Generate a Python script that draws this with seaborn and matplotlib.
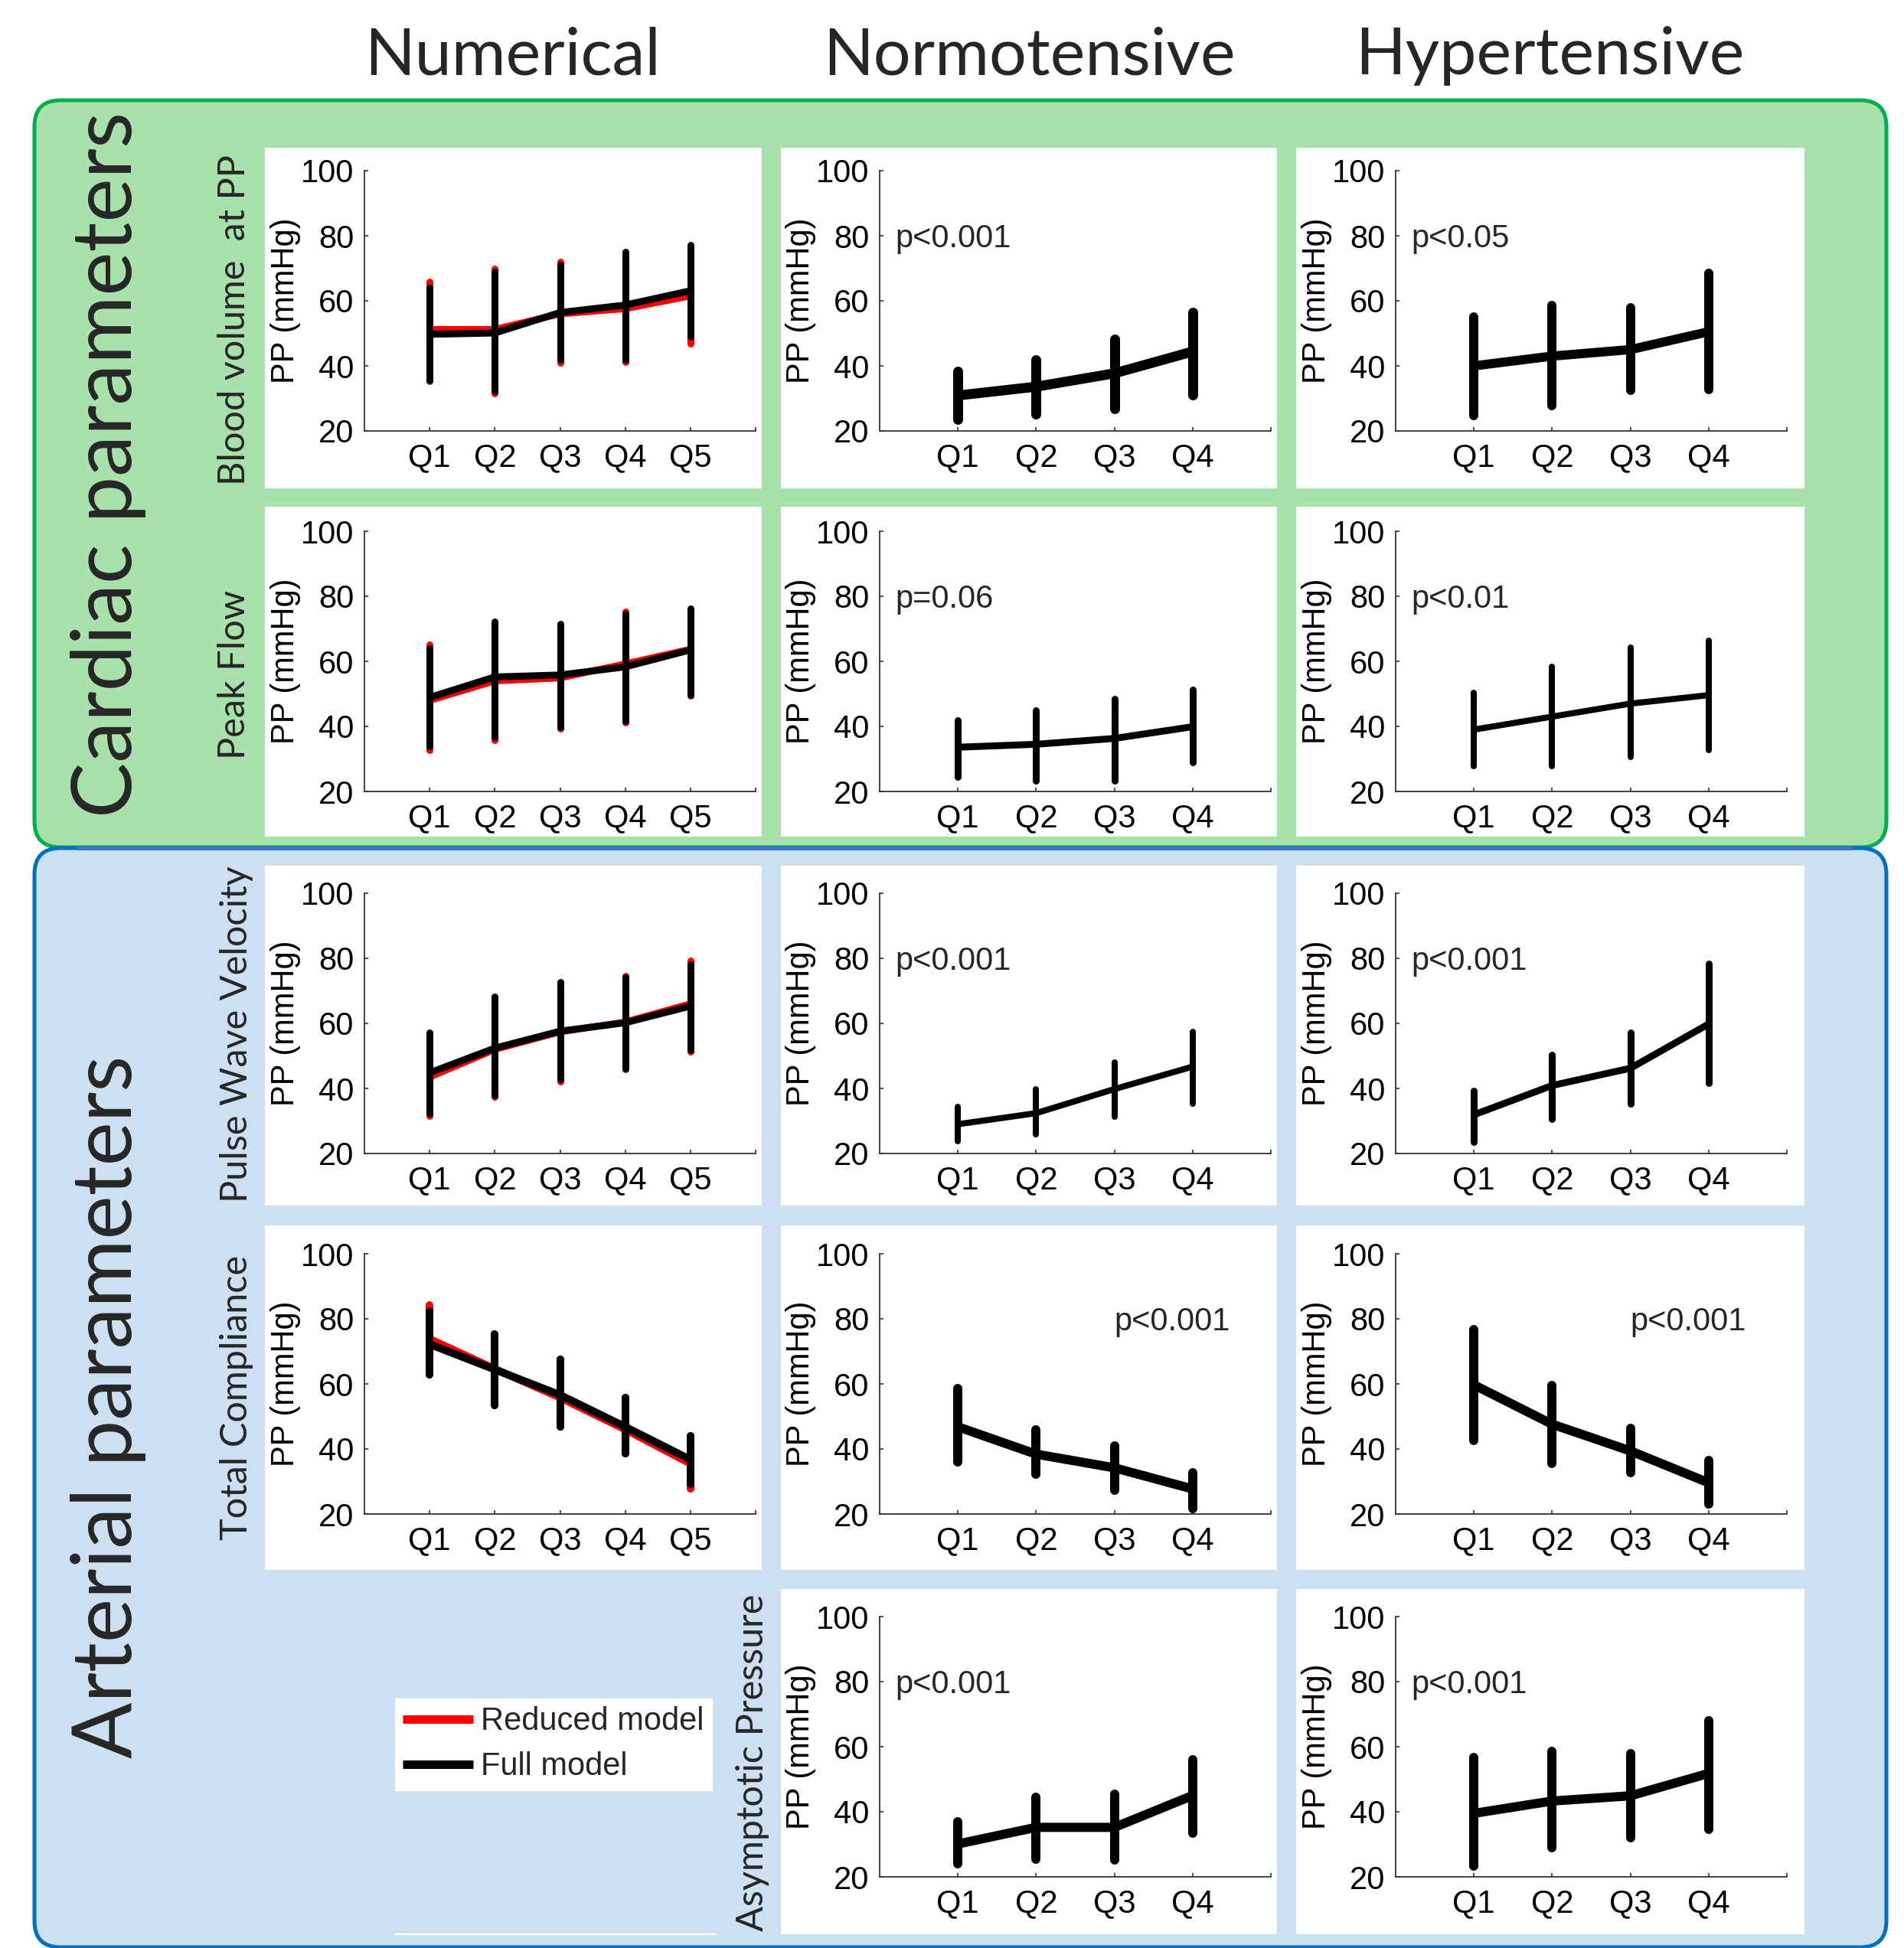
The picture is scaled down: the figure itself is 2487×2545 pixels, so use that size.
import numpy as np
import pandas as pd
import matplotlib
matplotlib.use("Agg")
import matplotlib.pyplot as plt
import seaborn as sns
from matplotlib.patches import FancyBboxPatch, Rectangle
from matplotlib.lines import Line2D

W, H = 2487, 2545

columns = ["Numerical", "Normotensive", "Hypertensive"]
row_names = ["Blood volume  at PP", "Peak Flow", "Pulse Wave Velocity",
             "Total Compliance", "Asymptotic Pressure"]
groups = ["Cardiac parameters", "Arterial parameters"]
q5 = ["Q1", "Q2", "Q3", "Q4", "Q5"]
q4 = ["Q1", "Q2", "Q3", "Q4"]

# PP (mmHg) per quartile: mean, bottom and top of the bar
bv_num_red = {"mean": [51.2, 51.2, 56.0, 57.6, 61.5], "lo": [35.2, 31.6, 41.0, 41.2, 46.8], "hi": [66.0, 70.0, 72.0, 74.5, 76.5]}
bv_num_full = {"mean": [49.7, 50.1, 56.4, 58.7, 63.1], "lo": [35.6, 32.2, 41.8, 41.8, 48.9], "hi": [64.0, 69.0, 71.0, 75.0, 77.2]}
bv_normo = {"mean": [30.9, 33.6, 37.7, 44.4], "lo": [23.5, 25.2, 26.8, 31.0], "hi": [38.3, 42.0, 48.2, 56.5]}
bv_hyper = {"mean": [40.0, 43.0, 45.0, 50.5], "lo": [24.8, 27.8, 32.5, 32.8], "hi": [55.0, 58.5, 57.8, 68.5]}

pf_num_red = {"mean": [48.0, 54.0, 54.9, 59.2, 63.7], "lo": [32.6, 35.8, 39.2, 41.2, 49.5], "hi": [65.1, 72.0, 71.0, 75.4, 76.0]}
pf_num_full = {"mean": [48.9, 55.2, 55.8, 58.3, 63.5], "lo": [34.0, 36.7, 39.8, 41.6, 49.7], "hi": [64.0, 72.3, 71.6, 74.5, 76.3]}
pf_normo = {"mean": [33.6, 34.5, 36.3, 39.9], "lo": [24.4, 23.3, 23.3, 29.0], "hi": [42.0, 45.0, 48.5, 51.3]}
pf_hyper = {"mean": [39.0, 43.0, 47.0, 49.6], "lo": [27.7, 27.7, 30.7, 32.7], "hi": [50.3, 58.3, 64.3, 66.3]}

pwv_num_red = {"mean": [43.5, 52.0, 57.4, 60.4, 66.0], "lo": [31.5, 37.3, 42.2, 46.0, 51.3], "hi": [57.0, 68.0, 72.5, 74.5, 79.2]}
pwv_num_full = {"mean": [44.8, 52.4, 57.6, 60.2, 65.3], "lo": [32.2, 37.8, 42.8, 46.2, 51.8], "hi": [57.2, 68.2, 72.7, 74.2, 78.0]}
pwv_normo = {"mean": [29.0, 32.4, 39.8, 46.7], "lo": [23.7, 26.0, 31.4, 35.2], "hi": [34.3, 39.7, 47.9, 57.3]}
pwv_hyper = {"mean": [31.9, 40.9, 46.2, 59.8], "lo": [23.6, 30.7, 35.4, 41.6], "hi": [39.4, 50.4, 57.1, 78.3]}

tc_num_red = {"mean": [73.8, 64.6, 55.8, 46.0, 35.5], "lo": [62.9, 53.5, 46.8, 38.6, 27.7], "hi": [84.3, 75.3, 67.5, 55.8, 44.1]}
tc_num_full = {"mean": [72.2, 64.4, 56.6, 46.8, 36.7], "lo": [62.9, 53.5, 46.8, 38.6, 29.2], "hi": [82.4, 75.3, 67.5, 55.8, 44.1]}
tc_normo = {"mean": [46.8, 38.4, 34.2, 27.7], "lo": [36.1, 32.3, 27.3, 21.6], "hi": [58.5, 46.0, 41.0, 32.6]}
tc_hyper = {"mean": [59.7, 47.6, 39.4, 29.6], "lo": [42.6, 35.5, 32.8, 23.0], "hi": [76.8, 59.6, 46.3, 36.5]}

ap_normo = {"mean": [30.1, 35.2, 35.2, 45.0], "lo": [23.9, 25.5, 25.1, 33.3], "hi": [37.0, 44.5, 45.3, 55.9]}
ap_hyper = {"mean": [39.5, 43.3, 44.9, 51.8], "lo": [23.2, 28.9, 31.9, 34.7], "hi": [56.6, 58.5, 57.8, 68.0]}

p_texts = {(0, 1): "p<0.001", (0, 2): "p<0.05", (1, 1): "p=0.06", (1, 2): "p<0.01",
           (2, 1): "p<0.001", (2, 2): "p<0.001", (3, 1): "p<0.001", (3, 2): "p<0.001",
           (4, 1): "p<0.001", (4, 2): "p<0.001"}

panels = {
    (0, 0): [(bv_num_red, "red"), (bv_num_full, "black")],
    (0, 1): [(bv_normo, "black")], (0, 2): [(bv_hyper, "black")],
    (1, 0): [(pf_num_red, "red"), (pf_num_full, "black")],
    (1, 1): [(pf_normo, "black")], (1, 2): [(pf_hyper, "black")],
    (2, 0): [(pwv_num_red, "red"), (pwv_num_full, "black")],
    (2, 1): [(pwv_normo, "black")], (2, 2): [(pwv_hyper, "black")],
    (3, 0): [(tc_num_red, "red"), (tc_num_full, "black")],
    (3, 1): [(tc_normo, "black")], (3, 2): [(tc_hyper, "black")],
    (4, 1): [(ap_normo, "black")], (4, 2): [(ap_hyper, "black")],
}

# line thickness of each panel, in pixels
lw_px = {(0, 0): 9, (0, 1): 13, (0, 2): 12, (1, 0): 9, (1, 1): 9, (1, 2): 8,
         (2, 0): 9, (2, 1): 8, (2, 2): 9, (3, 0): 10, (3, 1): 12, (3, 2): 12,
         (4, 1): 12, (4, 2): 12}

sns.set_theme(style="ticks")
plt.rcParams["font.family"] = ["Liberation Sans", "DejaVu Sans"]

fig = plt.figure(figsize=(W / 100, H / 100), dpi=100)
bg = fig.add_axes([0, 0, 1, 1], zorder=0)
bg.set_xlim(0, W)
bg.set_ylim(H, 0)
bg.axis("off")

bg.add_patch(FancyBboxPatch((45, 131), 2419, 976, boxstyle="round,pad=0,rounding_size=34",
                            fc="#A9E1AA", ec="#00B050", lw=3.6))
bg.add_patch(FancyBboxPatch((45, 1108), 2419, 1436, boxstyle="round,pad=0,rounding_size=34",
                            fc="#CCE0F1", ec="#0070C0", lw=3.6))
bg.plot([100, 2420], [1108, 1108], color="#4472C4", lw=3.6, solid_capstyle="butt")

col_white = [(346, 995), (1020, 1668), (1693, 2357)]
row_white = [(193, 638), (662, 1093), (1131, 1575), (1601, 2051), (2076, 2527)]
for (r, c) in panels:
    x0, x1 = col_white[c]
    y0, y1 = row_white[r]
    bg.add_patch(Rectangle((x0, y0), x1 - x0, y1 - y0, fc="white", ec="none"))
bg.plot([516, 935], [2527, 2527], color="white", lw=1.5)

for name, cx in zip(columns, [669, 1344, 2024]):
    bg.text(cx, 97, name, ha="center", va="baseline", fontsize=62, family="Lato")

for name, cy in zip(groups, [607, 1838]):
    bg.text(172, cy, name, rotation=90, rotation_mode="anchor", ha="center",
            va="baseline", fontsize=78, family="Lato")

for name, bx, cy in zip(row_names, [320, 320, 323, 323, 997], [418, 881, 1351, 1826, 2303]):
    bg.text(bx, cy, name, rotation=90, rotation_mode="anchor", ha="center",
            va="baseline", fontsize=35, family="Lato")

col_x = [476, 1149, 1823]
row_y = [223, 694, 1167, 1638, 2112]
ax_w, ax_h = 511, 340


def draw_series(ax, cats, s, color, lw):
    df = pd.DataFrame({"quartile": cats, "pos": np.arange(1, len(cats) + 1),
                       "pp": s["mean"], "lo": s["lo"], "hi": s["hi"]})
    ax.vlines(df["pos"], df["lo"], df["hi"], colors=color, linewidth=lw,
              capstyle="round", zorder=3)
    sns.lineplot(data=df, x="pos", y="pp", color=color, linewidth=lw, ax=ax,
                 zorder=3, solid_joinstyle="round", solid_capstyle="butt")


for (r, c), series in panels.items():
    left = col_x[c] / W
    bottom = 1 - (row_y[r] + ax_h) / H
    ax = fig.add_axes([left, bottom, ax_w / W, ax_h / H], zorder=2)
    ax.set_facecolor("none")
    cats = q5 if c == 0 else q4
    lw = lw_px[(r, c)] * 0.72
    for s, color in series:
        draw_series(ax, cats, s, color, lw)
    n = len(cats)
    ax.set_xlim(0, n + 1)
    ax.set_ylim(20, 100)
    ax.set_xticks(np.arange(1, n + 2))
    ax.set_xticklabels(cats + [""])
    ax.set_yticks([20, 40, 60, 80, 100])
    ax.set_xlabel("")
    ax.set_ylabel("PP (mmHg)", fontsize=30, color="black")
    ax.yaxis.set_label_coords(-0.162, 0.5)
    sns.despine(ax=ax)
    for sp in ["left", "bottom"]:
        ax.spines[sp].set_linewidth(1.3)
        ax.spines[sp].set_color("#333333")
    ax.tick_params(direction="in", length=3.6, width=1.2, color="#333333",
                   labelsize=30, labelcolor="black")
    ax.tick_params(axis="y", pad=10)
    ax.tick_params(axis="x", pad=11)
    if (r, c) in p_texts:
        px = 3.0 if r == 3 else 0.2
        ax.text(px, 76.4, p_texts[(r, c)], ha="left", va="baseline", fontsize=30)

handles = [Line2D([], [], color="red", lw=8, solid_capstyle="butt"),
           Line2D([], [], color="black", lw=8, solid_capstyle="butt")]
fig.legend(handles, ["Reduced model", "Full model"], loc="upper left",
           bbox_to_anchor=(516 / W, 1 - 2219 / H), borderaxespad=0, frameon=True,
           fancybox=False, framealpha=1, facecolor="white", edgecolor="white",
           fontsize=30, handlelength=2.2, handletextpad=0.24, borderpad=0.25,
           labelspacing=0.45)

fig.savefig("out.png", dpi=100)
